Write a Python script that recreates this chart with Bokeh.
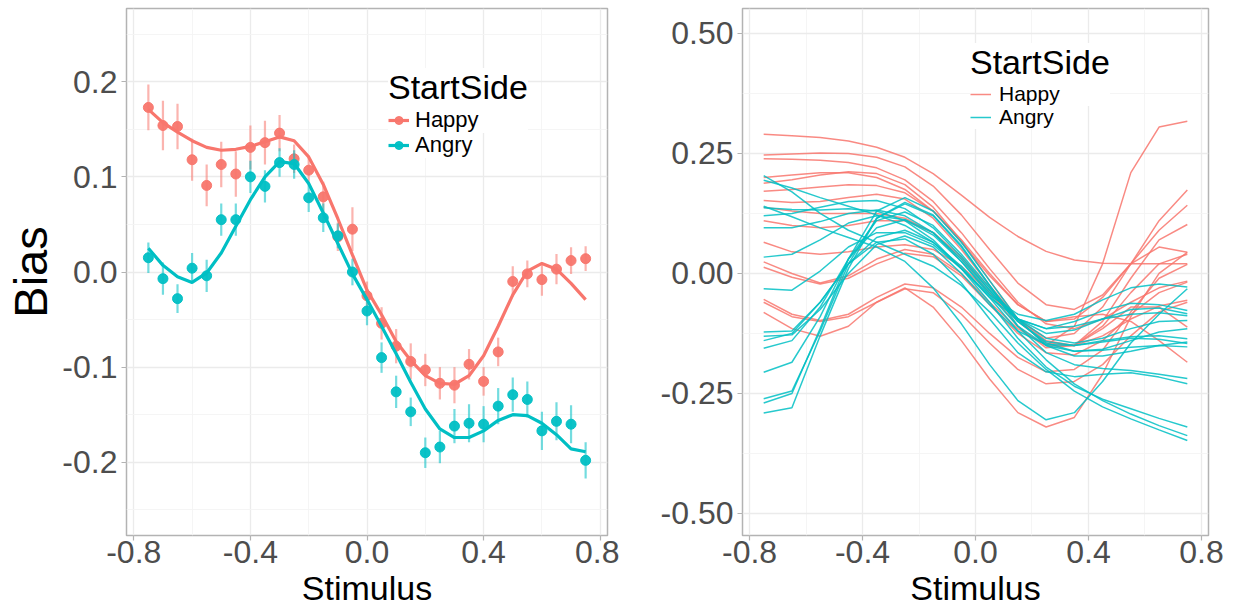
from bokeh.plotting import figure
from bokeh.layouts import row
from bokeh.models import ColumnDataSource, FixedTicker, Legend, LegendItem, Range1d
from bokeh.embed import file_html
from bokeh.resources import INLINE

# ---------------- data ----------------
stimulus = [-0.75, -0.70, -0.65, -0.60, -0.55, -0.50, -0.45, -0.40, -0.35, -0.30,
            -0.25, -0.20, -0.15, -0.10, -0.05, 0.00, 0.05, 0.10, 0.15, 0.20,
            0.25, 0.30, 0.35, 0.40, 0.45, 0.50, 0.55, 0.60, 0.65, 0.70, 0.75]

happy_bias = [0.173, 0.154, 0.153, 0.118, 0.091, 0.113, 0.103, 0.131, 0.136, 0.146,
              0.119, 0.107, 0.079, 0.037, 0.045, -0.025, -0.054, -0.078, -0.094, -0.103,
              -0.117, -0.119, -0.097, -0.115, -0.084, -0.010, -0.002, -0.008, 0.003, 0.012, 0.014]
happy_se = [0.024, 0.026, 0.024, 0.022, 0.022, 0.024, 0.024, 0.023, 0.023, 0.019,
            0.015, 0.014, 0.016, 0.015, 0.023, 0.015, 0.017, 0.018, 0.019, 0.017,
            0.017, 0.019, 0.016, 0.015, 0.015, 0.016, 0.014, 0.017, 0.016, 0.014, 0.013]
angry_bias = [0.015, -0.007, -0.028, 0.004, -0.004, 0.055, 0.055, 0.100, 0.090, 0.115,
              0.113, 0.078, 0.057, 0.038, 0.000, -0.041, -0.090, -0.126, -0.147, -0.190,
              -0.184, -0.162, -0.159, -0.160, -0.141, -0.129, -0.134, -0.167, -0.157, -0.160, -0.198]
angry_se = [0.016, 0.017, 0.015, 0.016, 0.017, 0.017, 0.017, 0.017, 0.017, 0.015,
            0.015, 0.015, 0.015, 0.013, 0.014, 0.015, 0.016, 0.017, 0.015, 0.016,
            0.017, 0.018, 0.020, 0.019, 0.019, 0.018, 0.019, 0.020, 0.020, 0.020, 0.019]
happy_fit = [0.171, 0.157, 0.147, 0.138, 0.131, 0.128, 0.129, 0.132, 0.137, 0.142,
             0.138, 0.121, 0.092, 0.056, 0.018, -0.019, -0.045, -0.073, -0.093, -0.109,
             -0.117, -0.118, -0.109, -0.088, -0.057, -0.024, 0.001, 0.009, 0.003, -0.012, -0.029]
angry_fit = [0.025, 0.007, -0.005, -0.011, -0.001, 0.020, 0.048, 0.076, 0.100, 0.116,
             0.114, 0.093, 0.062, 0.030, -0.002, -0.029, -0.057, -0.086, -0.116, -0.144,
             -0.165, -0.174, -0.174, -0.167, -0.156, -0.150, -0.151, -0.159, -0.171, -0.186, -0.189]

# per-subject curves (right panel)
subject_x = [-0.75, -0.65, -0.55, -0.45, -0.35, -0.25, -0.15, -0.05,
             0.05, 0.15, 0.25, 0.35, 0.45, 0.55, 0.65, 0.75]
happy_subjects = [
    [0.290, 0.287, 0.283, 0.276, 0.263, 0.242, 0.208, 0.163, 0.117, 0.077, 0.046, 0.028, 0.021, 0.020, 0.020, 0.020],
    [0.247, 0.249, 0.251, 0.250, 0.242, 0.222, 0.182, 0.122, 0.050, -0.020, -0.065, -0.075, -0.045, 0.020, 0.090, 0.142],
    [0.239, 0.238, 0.236, 0.231, 0.220, 0.195, 0.150, 0.085, 0.010, -0.060, -0.105, -0.115, -0.095, -0.060, -0.030, -0.016],
    [0.188, 0.195, 0.205, 0.212, 0.208, 0.185, 0.138, 0.068, -0.015, -0.095, -0.150, -0.110, 0.020, 0.210, 0.305, 0.317],
    [0.171, 0.175, 0.180, 0.185, 0.183, 0.168, 0.130, 0.070, 0.000, -0.065, -0.100, -0.095, -0.050, 0.020, 0.055, 0.044],
    [0.152, 0.148, 0.150, 0.158, 0.165, 0.155, 0.115, 0.050, -0.025, -0.095, -0.135, -0.125, -0.070, 0.020, 0.110, 0.174],
    [0.138, 0.130, 0.125, 0.125, 0.125, 0.115, 0.085, 0.035, -0.030, -0.095, -0.140, -0.150, -0.130, -0.095, -0.068, -0.056],
    [0.110, 0.100, 0.095, 0.100, 0.110, 0.110, 0.085, 0.030, -0.040, -0.110, -0.155, -0.150, -0.100, -0.010, 0.070, 0.102],
    [0.065, 0.045, 0.040, 0.045, 0.055, 0.060, 0.050, 0.015, -0.040, -0.100, -0.145, -0.150, -0.115, -0.070, -0.070, -0.112],
    [0.024, 0.000, -0.020, -0.005, 0.030, 0.050, 0.040, 0.000, -0.060, -0.115, -0.150, -0.150, -0.110, -0.040, 0.020, 0.040],
    [0.013, -0.008, -0.022, -0.010, 0.020, 0.042, 0.035, -0.005, -0.065, -0.125, -0.165, -0.170, -0.140, -0.085, -0.040, -0.018],
    [-0.054, -0.085, -0.098, -0.085, -0.050, -0.022, -0.030, -0.070, -0.125, -0.175, -0.205, -0.200, -0.160, -0.080, -0.010, 0.019],
    [-0.060, -0.090, -0.100, -0.090, -0.060, -0.032, -0.040, -0.085, -0.145, -0.200, -0.230, -0.225, -0.190, -0.130, -0.080, -0.060],
    [-0.081, -0.115, -0.131, -0.110, -0.060, -0.030, -0.070, -0.140, -0.220, -0.290, -0.320, -0.300, -0.210, -0.090, 0.000, 0.044],
    [0.200, 0.205, 0.210, 0.210, 0.200, 0.175, 0.130, 0.065, -0.005, -0.065, -0.100, -0.090, -0.085, -0.100, -0.140, -0.185],
]
angry_subjects = [
    [0.204, 0.170, 0.125, 0.090, 0.065, 0.040, 0.015, -0.025, -0.080, -0.145, -0.200, -0.245, -0.278, -0.303, -0.326, -0.348],
    [0.194, 0.178, 0.158, 0.140, 0.122, 0.100, 0.065, 0.015, -0.050, -0.120, -0.180, -0.230, -0.265, -0.293, -0.317, -0.338],
    [0.137, 0.133, 0.132, 0.135, 0.130, 0.110, 0.070, 0.010, -0.060, -0.135, -0.195, -0.235, -0.262, -0.282, -0.302, -0.320],
    [0.120, 0.125, 0.138, 0.150, 0.152, 0.135, 0.095, 0.035, -0.035, -0.100, -0.142, -0.150, -0.143, -0.135, -0.137, -0.146],
    [0.095, 0.095, 0.108, 0.125, 0.132, 0.120, 0.085, 0.030, -0.035, -0.095, -0.125, -0.118, -0.095, -0.075, -0.072, -0.084],
    [0.034, 0.040, 0.070, 0.105, 0.120, 0.112, 0.080, 0.025, -0.040, -0.095, -0.115, -0.100, -0.078, -0.062, -0.065, -0.077],
    [-0.032, -0.035, 0.005, 0.055, 0.085, 0.085, 0.060, 0.010, -0.045, -0.085, -0.098, -0.085, -0.055, -0.030, -0.022, -0.028],
    [-0.122, -0.120, -0.060, 0.020, 0.075, 0.090, 0.065, 0.010, -0.050, -0.095, -0.115, -0.110, -0.095, -0.085, -0.082, -0.088],
    [-0.131, -0.128, -0.075, 0.000, 0.060, 0.078, 0.055, 0.000, -0.065, -0.120, -0.148, -0.150, -0.140, -0.132, -0.130, -0.136],
    [-0.156, -0.140, -0.070, 0.030, 0.095, 0.112, 0.085, 0.025, -0.045, -0.110, -0.150, -0.162, -0.160, -0.154, -0.150, -0.153],
    [-0.206, -0.185, -0.090, 0.030, 0.110, 0.128, 0.100, 0.040, -0.030, -0.095, -0.135, -0.145, -0.135, -0.115, -0.100, -0.098],
    [-0.261, -0.245, -0.120, 0.020, 0.115, 0.145, 0.120, 0.055, -0.025, -0.100, -0.145, -0.162, -0.158, -0.140, -0.122, -0.115],
    [-0.270, -0.250, -0.115, 0.030, 0.130, 0.158, 0.130, 0.065, -0.015, -0.095, -0.150, -0.172, -0.172, -0.162, -0.150, -0.143],
    [-0.291, -0.280, -0.130, 0.010, 0.115, 0.148, 0.122, 0.058, -0.025, -0.110, -0.165, -0.190, -0.198, -0.202, -0.210, -0.219],
    [-0.140, -0.125, -0.060, 0.020, 0.065, 0.072, 0.040, -0.020, -0.095, -0.165, -0.205, -0.215, -0.210, -0.207, -0.216, -0.230],
    [0.140, 0.118, 0.095, 0.075, 0.055, 0.025, -0.030, -0.105, -0.190, -0.265, -0.305, -0.290, -0.225, -0.145, -0.085, -0.032],
]

groups = ["Happy", "Angry"]
legend_title = "StartSide"
x_ticks = [-0.8, -0.4, 0.0, 0.4, 0.8]
x_tick_labels = ["-0.8", "-0.4", "0.0", "0.4", "0.8"]
x_minor = [-0.6, -0.2, 0.2, 0.6]
left_y_ticks = [-0.2, -0.1, 0.0, 0.1, 0.2]
left_y_labels = ["-0.2", "-0.1", "0.0", "0.1", "0.2"]
left_y_minor = [-0.25, -0.15, -0.05, 0.05, 0.15, 0.25]
right_y_ticks = [-0.5, -0.25, 0.0, 0.25, 0.5]
right_y_labels = ["-0.50", "-0.25", "0.00", "0.25", "0.50"]
right_y_minor = [-0.375, -0.125, 0.125, 0.375]

RED = "#F8766D"
TEAL = "#00BFC4"
FONT = "Liberation Sans"


def style(p, xt, xl, xm, yt, yl, ym):
    p.xaxis.ticker = FixedTicker(ticks=xt, minor_ticks=xm)
    p.yaxis.ticker = FixedTicker(ticks=yt, minor_ticks=ym)
    p.xaxis.major_label_overrides = dict(zip(xt, xl))
    p.yaxis.major_label_overrides = dict(zip(yt, yl))
    for ax in (p.xaxis[0], p.yaxis[0]):
        ax.axis_line_color = None
        ax.major_tick_line_color = "#B3B3B3"
        ax.major_tick_line_width = 1.2
        ax.major_tick_in = 0
        ax.major_tick_out = 5
        ax.minor_tick_line_color = None
        ax.major_label_text_font = FONT
        ax.major_label_text_font_size = "32px"
        ax.major_label_text_color = "#4D4D4D"
        ax.axis_label_text_font = FONT
        ax.axis_label_text_font_style = "normal"
        ax.axis_label_text_color = "black"
    p.xaxis.major_label_standoff = 0
    p.yaxis.major_label_standoff = 4
    p.xaxis.axis_label_text_font_size = "34px"
    p.xaxis.axis_label_standoff = 3
    for g in (p.xgrid[0], p.ygrid[0]):
        g.grid_line_color = "#EBEBEB"
        g.grid_line_width = 1.3
        g.minor_grid_line_color = "#F4F4F4"
        g.minor_grid_line_width = 0.9
    p.outline_line_color = "#B3B3B3"
    p.outline_line_width = 1.5
    p.background_fill_color = "white"


def make_legend(items, loc, lab_size, standoff, title=None):
    leg = Legend(items=items, location=loc)
    if title is not None:
        leg.title = title
    leg.title_text_font = FONT
    leg.title_text_font_size = "34px"
    leg.title_text_font_style = "normal"
    leg.title_text_color = "black"
    leg.title_standoff = 0
    leg.label_text_font = FONT
    leg.label_text_font_size = lab_size
    leg.label_text_color = "black"
    leg.label_standoff = standoff
    leg.glyph_width = 21
    leg.glyph_height = 20
    leg.label_height = 20
    leg.spacing = 0
    leg.padding = 0
    leg.margin = 0
    leg.border_line_alpha = 0
    leg.background_fill_color = "white"
    leg.background_fill_alpha = 1
    return leg


# ---------------- left panel ----------------
p1 = figure(frame_width=481, frame_height=527,
            x_range=Range1d(-0.825, 0.825), y_range=Range1d(-0.277, 0.277),
            output_backend="svg", toolbar_location=None,
            min_border_left=126, min_border_right=12, min_border_top=8, min_border_bottom=40,
            x_axis_label="Stimulus", y_axis_label="Bias")
style(p1, x_ticks, x_tick_labels, x_minor, left_y_ticks, left_y_labels, left_y_minor)
p1.yaxis.axis_label_text_font_size = "47px"
p1.yaxis.axis_label_standoff = 2

rends1 = []
for name, bias, se, fit, col in ((groups[0], happy_bias, happy_se, happy_fit, RED),
                                 (groups[1], angry_bias, angry_se, angry_fit, TEAL)):
    src = ColumnDataSource(dict(x=stimulus, y=bias,
                                lo=[b - s for b, s in zip(bias, se)],
                                hi=[b + s for b, s in zip(bias, se)],
                                fit=fit))
    seg = p1.segment(x0="x", y0="lo", x1="x", y1="hi", source=src,
                     line_color=col, line_width=2.2, line_alpha=0.55)
    pts = p1.scatter("x", "y", source=src, size=10, fill_color=col, line_color=col, alpha=0.95)
    ln = p1.line("x", "fit", source=src, line_color=col, line_width=3.2)
    rends1.append([ln, pts])

# second row first (drawn underneath), then title + first row on top
p1.add_layout(make_legend([LegendItem(label=groups[1], renderers=rends1[1])], (262, 377), "22px", 6))
p1.add_layout(make_legend([LegendItem(label=groups[0], renderers=rends1[0])], (262, 402), "22px", 6,
                          title=legend_title))

# ---------------- right panel ----------------
p2 = figure(frame_width=466, frame_height=527,
            x_range=Range1d(-0.825, 0.825), y_range=Range1d(-0.546, 0.552),
            output_backend="svg", toolbar_location=None,
            min_border_left=123, min_border_right=22, min_border_top=8, min_border_bottom=40,
            x_axis_label="Stimulus")
style(p2, x_ticks, x_tick_labels, x_minor, right_y_ticks, right_y_labels, right_y_minor)

rends2 = []
for name, subs, col in ((groups[0], happy_subjects, RED), (groups[1], angry_subjects, TEAL)):
    src = ColumnDataSource(dict(xs=[subject_x] * len(subs), ys=subs))
    ml = p2.multi_line("xs", "ys", source=src, line_color=col, line_width=1.5, line_alpha=0.85)
    rends2.append([ml])

p2.add_layout(make_legend([LegendItem(label=groups[1], renderers=rends2[1])], (228, 406), "21px", 8))
p2.add_layout(make_legend([LegendItem(label=groups[0], renderers=rends2[0])], (228, 429), "21px", 8,
                          title=legend_title))

layout = row(p1, p2)
open("out.html", "w").write(file_html(layout, INLINE))
